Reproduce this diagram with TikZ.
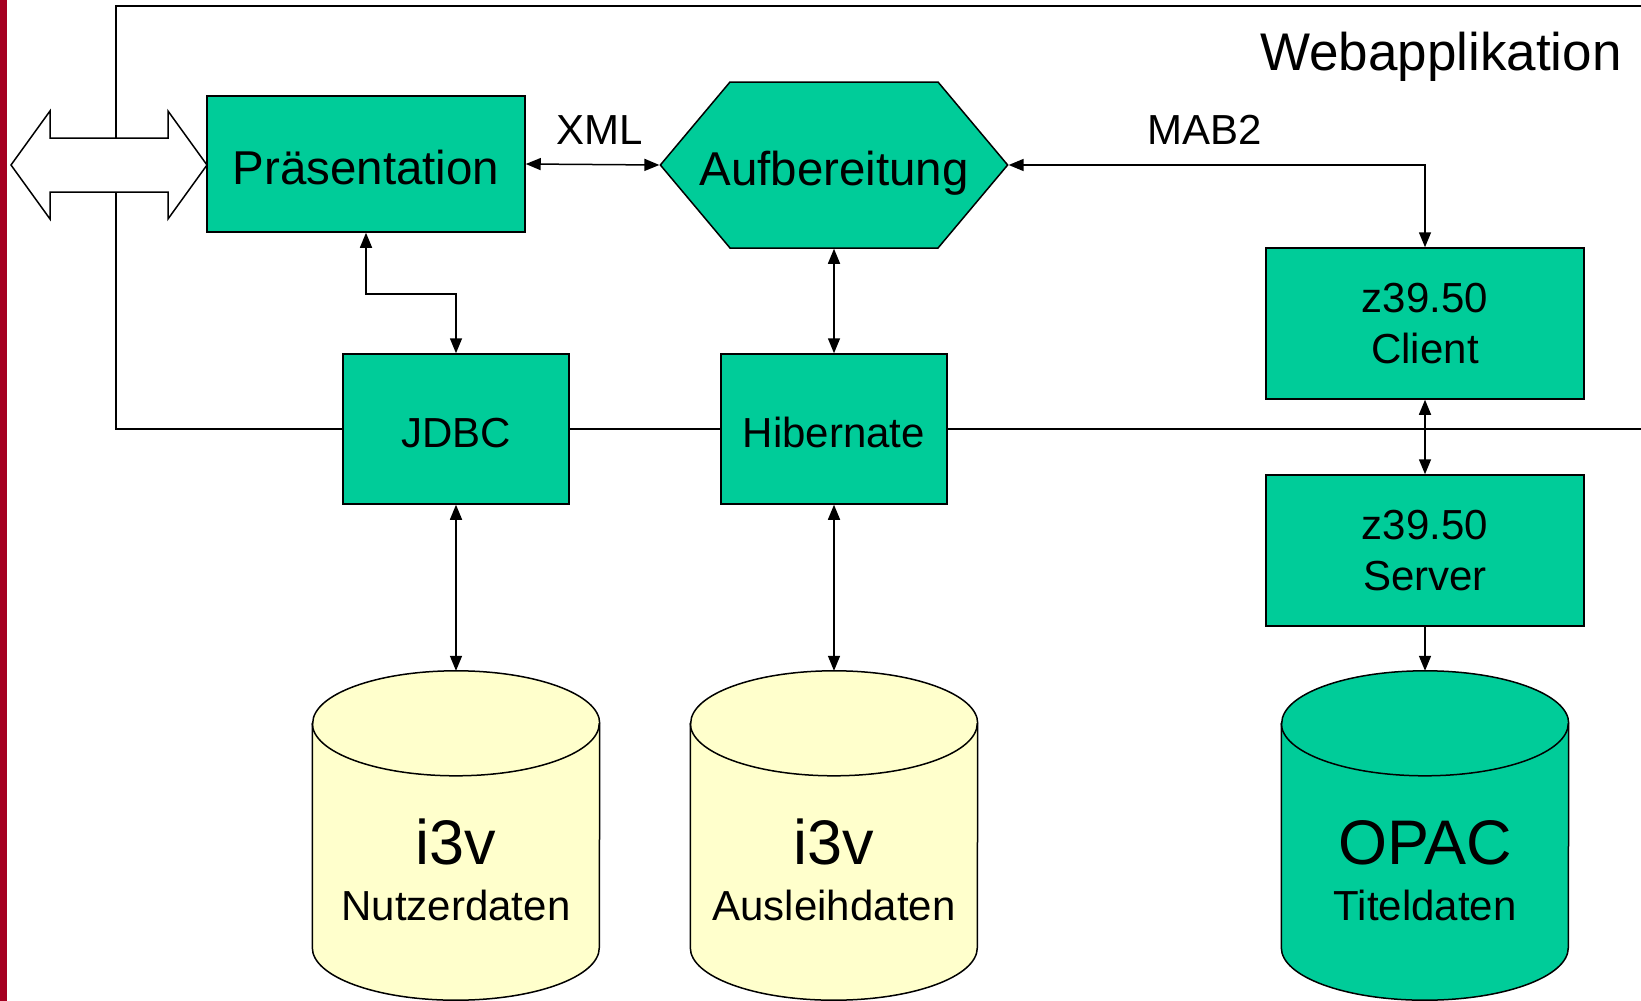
\documentclass[tikz,border=0pt]{standalone}
\usepackage{fontspec}
\setmainfont{Liberation Sans}
\usetikzlibrary{shapes.symbols,arrows.meta}

\definecolor{boxgreen}{RGB}{0,204,153}
\definecolor{dbyellow}{RGB}{255,255,204}
\definecolor{barred}{RGB}{165,0,33}

\newcommand\presfont{\fontsize{47.5}{57}\selectfont}
\newcommand\boxfont{\fontsize{42}{51}\selectfont}
\newcommand\dbfont{\fontsize{63}{70}\selectfont}
\newcommand\webfont{\fontsize{53}{60}\selectfont}

% database drum around a named node: #1 node, #2 fill
\newcommand\drawdb[2]{%
  \draw[line width=1.5pt, fill=#2] ([yshift=-52.5pt]#1.north west) -- ([yshift=52.5pt]#1.south west)
    arc[start angle=180, end angle=360, x radius=143.5pt, y radius=52.5pt]
    -- ([yshift=-52.5pt]#1.north east)
    arc[start angle=0, end angle=180, x radius=143.5pt, y radius=52.5pt] -- cycle;
  \draw[line width=1.5pt] ([yshift=-52.5pt]#1.north west)
    arc[start angle=180, end angle=360, x radius=143.5pt, y radius=52.5pt];
}

\tikzset{
  box/.style={draw, line width=1.5pt, fill=boxgreen, inner sep=0pt, align=center, font=\boxfont},
  db/.style={inner sep=0pt, minimum width=287pt, minimum height=329pt},
  link/.style={line width=1.5pt, {Triangle[length=15pt,width=12pt]}-{Triangle[length=15pt,width=12pt]}},
  onelink/.style={line width=1.5pt, -{Triangle[length=15pt,width=12pt]}},
  frame/.style={line width=1.5pt}
}

\begin{document}
\begin{tikzpicture}[x=1pt, y=-1pt]
\useasboundingbox (0,0) rectangle (1641,1001);
% red bar at the left edge
\fill[barred] (0,0) rectangle (7,1001);

% frame of the web application
\draw[frame] (1641,6) -- (116,6) -- (116,429) -- (1641,429);
\node[anchor=base, font=\webfont] (weblbl) at (1441,70) {Webapplikation};

% upper row
\node[box, font=\presfont, text height=40pt, text depth=0pt, minimum width=318pt, minimum height=136pt] (pres) at (366,164) {Präsentation};
\node[signal, signal to=west and east, signal pointer angle=100, draw, line width=1.5pt,
  fill=boxgreen, inner sep=0pt, minimum height=166pt, text height=40pt, text depth=0pt,
  font=\presfont] (aufb) at (834,165) {\makebox[208pt]{Aufbereitung}};
\node[box, minimum width=318pt, minimum height=151pt] (client) at (1425,323.5) {z39.50\\Client};

% middle row
\node[box, minimum width=226pt, minimum height=150pt, text height=36pt, text depth=0pt] (jdbc) at (456,429) {JDBC};
\node[box, minimum width=226pt, minimum height=150pt, text height=36pt, text depth=0pt] (hib) at (834,429) {Hibernate};
\node[box, minimum width=318pt, minimum height=151pt] (server) at (1425,550.5) {z39.50\\Server};

% databases
\node[db] (nutzer) at (456,835.5) {};
\node[db] (ausleih) at (834,835.5) {};
\node[db] (opac) at (1425,835.5) {};
\drawdb{nutzer}{dbyellow}
\drawdb{ausleih}{dbyellow}
\drawdb{opac}{boxgreen}
\node[anchor=base, font=\dbfont] (nutzertop) at (456,864) {i3v};
\node[anchor=base, font=\boxfont] (nutzerbot) at (456,920) {Nutzerdaten};
\node[anchor=base, font=\dbfont] (ausleihtop) at (834,864) {i3v};
\node[anchor=base, font=\boxfont] (ausleihbot) at (834,920) {Ausleihdaten};
\node[anchor=base, font=\dbfont] (opactop) at (1425,864) {OPAC};
\node[anchor=base, font=\boxfont] (opacbot) at (1425,920) {Titeldaten};

% connections
\draw[link] (pres.east) -- (aufb.west);
\node[anchor=base, font=\boxfont] (xml) at (600,144) {XML};
\draw[link] (aufb.east) -| (client.north);
\node[anchor=base, font=\boxfont] (mab) at (1205,144) {MAB2};
\draw[link] (pres.south) -- ++(0,61) -| (jdbc.north);
\draw[link] (aufb.south) -- (hib.north);
\draw[link] (jdbc.south) -- (nutzer.north);
\draw[link] (hib.south) -- (ausleih.north);
\draw[link] (client.south) -- (server.north);
\draw[onelink] (server.south) -- (opac.north);

% big double arrow to the outside
\draw[line width=1.5pt, fill=white] (11,165) -- (50,111) -- (50,138) -- (168,138) -- (168,111)
  -- (207,165) -- (168,219) -- (168,192) -- (50,192) -- (50,219) -- cycle;
\end{tikzpicture}
\end{document}
